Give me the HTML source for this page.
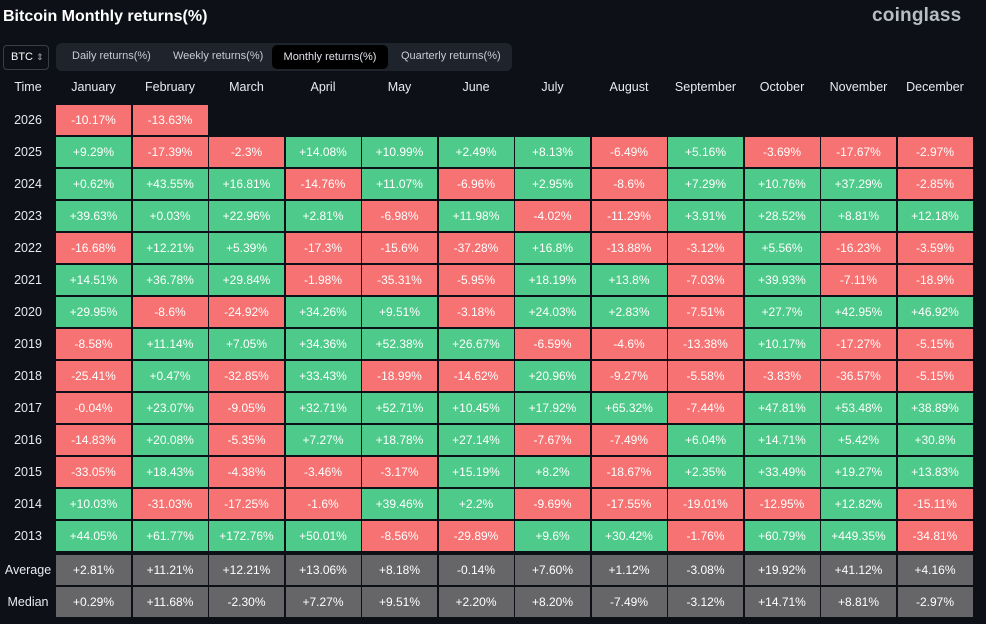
<!DOCTYPE html>
<html><head><meta charset="utf-8"><style>
body{margin:0;width:986px;height:624px;background:#0d1017;font-family:"Liberation Sans",sans-serif;color:#fff;position:relative;overflow:hidden}
.a{position:absolute}
.cell{position:absolute;display:flex;align-items:center;justify-content:center;font-size:12px;color:#fff}
.lbl{position:absolute;display:flex;align-items:center;justify-content:center;font-size:12.5px;color:#e8eaf0}
</style></head><body>
<div class="a" style="left:3px;top:8px;font-size:16px;font-weight:bold">Bitcoin Monthly returns(%)</div>
<div class="a" style="left:872px;top:5px;font-size:19px;font-weight:bold;color:#b8bcc4;letter-spacing:0.2px">coinglass</div>
<div class="a" style="left:3px;top:45px;width:44px;height:23px;border:1px solid #3a3e47;border-radius:4px;font-size:11px;line-height:23px;text-indent:7px">BTC <span style="font-size:9px;color:#aaa">⇕</span></div>
<div class="a" style="left:56px;top:43px;width:456px;height:28px;background:#1f232b;border-radius:6px"></div>
<div class="a" style="left:72px;top:50px;font-size:11px;color:#c8ccd6">Daily returns(%)</div>
<div class="a" style="left:173px;top:50px;font-size:11px;color:#c8ccd6">Weekly returns(%)</div>
<div class="a" style="left:272px;top:45px;width:116px;height:24px;background:#000;border-radius:5px;font-size:11px;line-height:24px;text-align:center;color:#e0e3ea">Monthly returns(%)</div>
<div class="a" style="left:401px;top:50px;font-size:11px;color:#c8ccd6">Quarterly returns(%)</div>
<div id="grid"></div>
<script>
const months=["January","February","March","April","May","June","July","August","September","October","November","December"];
const years=["2026","2025","2024","2023","2022","2021","2020","2019","2018","2017","2016","2015","2014","2013"];
const r2026=[-10.17,-13.63];
const r2025=[9.29,-17.39,-2.3,14.08,10.99,2.49,8.13,-6.49,5.16,-3.69,-17.67,-2.97];
const r2024=[0.62,43.55,16.81,-14.76,11.07,-6.96,2.95,-8.6,7.29,10.76,37.29,-2.85];
const r2023=[39.63,0.03,22.96,2.81,-6.98,11.98,-4.02,-11.29,3.91,28.52,8.81,12.18];
const r2022=[-16.68,12.21,5.39,-17.3,-15.6,-37.28,16.8,-13.88,-3.12,5.56,-16.23,-3.59];
const r2021=[14.51,36.78,29.84,-1.98,-35.31,-5.95,18.19,13.8,-7.03,39.93,-7.11,-18.9];
const r2020=[29.95,-8.6,-24.92,34.26,9.51,-3.18,24.03,2.83,-7.51,27.7,42.95,46.92];
const r2019=[-8.58,11.14,7.05,34.36,52.38,26.67,-6.59,-4.6,-13.38,10.17,-17.27,-5.15];
const r2018=[-25.41,0.47,-32.85,33.43,-18.99,-14.62,20.96,-9.27,-5.58,-3.83,-36.57,-5.15];
const r2017=[-0.04,23.07,-9.05,32.71,52.71,10.45,17.92,65.32,-7.44,47.81,53.48,38.89];
const r2016=[-14.83,20.08,-5.35,7.27,18.78,27.14,-7.67,-7.49,6.04,14.71,5.42,30.8];
const r2015=[-33.05,18.43,-4.38,-3.46,-3.17,15.19,8.2,-18.67,2.35,33.49,19.27,13.83];
const r2014=[10.03,-31.03,-17.25,-1.6,39.46,2.2,-9.69,-17.55,-19.01,-12.95,12.82,-15.11];
const r2013=[44.05,61.77,172.76,50.01,-8.56,-29.89,9.6,30.42,-1.76,60.79,449.35,-34.81];
const average=[2.81,11.21,12.21,13.06,8.18,-0.14,7.60,1.12,-3.08,19.92,41.12,4.16];
const median=[0.29,11.68,-2.30,7.27,9.51,2.20,8.20,-7.49,-3.12,14.71,8.81,-2.97];
const rows=[r2026,r2025,r2024,r2023,r2022,r2021,r2020,r2019,r2018,r2017,r2016,r2015,r2014,r2013];
const g=document.getElementById('grid');
const X=i=>56+i*76.5, Y=j=>105+j*32;
function add(cls,x,y,w,h,txt,bg){const d=document.createElement('div');d.className=cls;d.style.left=x+'px';d.style.top=y+'px';d.style.width=w+'px';d.style.height=h+'px';if(bg)d.style.background=bg;d.textContent=txt;g.appendChild(d);return d;}
let t=add('lbl',0,74,56,26,'Time');


months.forEach((m,i)=>{const e=add('lbl',X(i),74,75,26,m);

});
const fmt=(v,fx)=>(v>=0?'+':'')+(fx?v.toFixed(2):String(v))+'%';
rows.forEach((r,j)=>{const l=add('lbl',0,Y(j),56,30,years[j]);


r.forEach((v,i)=>{const c=add('cell',X(i),Y(j),75,30,fmt(v,false),v>=0?'#4ecb8a':'#f77272');

});});
[["Average",average],["Median",median]].forEach(([n,arr],k)=>{const j=14+k;const l=add('lbl',0,Y(j)+2,56,30,n);


arr.forEach((v,i)=>{const c=add('cell',X(i),Y(j)+2,75,30,fmt(v,true),'#666668');

});});
</script>
</body></html>
